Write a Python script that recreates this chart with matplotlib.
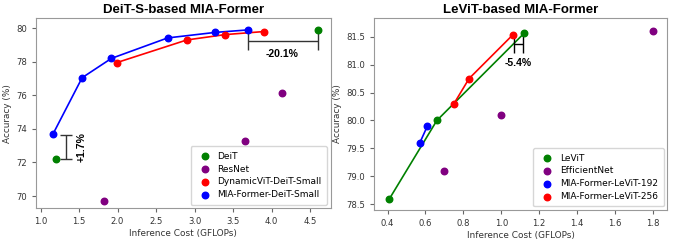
import matplotlib
matplotlib.use("Agg")
import matplotlib.pyplot as plt

# ---- Left panel data (DeiT-S based) ----
deit_x = [1.2, 4.6]
deit_y = [72.2, 79.9]
resnet_x = [1.82, 3.66, 4.13]
resnet_y = [69.7, 73.3, 76.15]
dyn_x = [1.99, 2.9, 3.4, 3.9]
dyn_y = [77.95, 79.3, 79.62, 79.8]
mia_s_x = [1.16, 1.54, 1.92, 2.65, 3.27, 3.7]
mia_s_y = [73.68, 77.05, 78.2, 79.42, 79.75, 79.9]

# annotations left
gain_x = [1.33]
gain_y = [72.93]
gain_err = [0.72]
gain_label = "+1.7%"
cost_x = [4.15]
cost_y = [79.26]
cost_err = [0.45]
cost_label = "-20.1%"

# ---- Right panel data (LeViT based) ----
levit_x = [0.41, 0.66, 1.12]
levit_y = [78.6, 80.0, 81.56]
eff_x = [0.70, 1.0, 1.8]
eff_y = [79.1, 80.1, 81.6]
mia192_x = [0.57, 0.61]
mia192_y = [79.6, 79.9]
mia256_x = [0.75, 0.83, 1.06]
mia256_y = [80.3, 80.75, 81.53]

levit_cost_x = [1.09]
levit_cost_y = [81.37]
levit_cost_err = [0.025]
levit_cost_label = "-5.4%"

fig = plt.figure(figsize=(6.78, 2.45), dpi=100)
ax1 = fig.add_axes([0.053, 0.150, 0.435, 0.776])
ax2 = fig.add_axes([0.552, 0.143, 0.432, 0.783])

ms = 22
spine_c = "#999999"
ebar_c = "#333333"
bold_font = ["Liberation Sans", "DejaVu Sans"]

def style(ax):
    for s in ax.spines.values():
        s.set_color(spine_c)
    ax.tick_params(labelsize=6.1, colors="#333333", length=3, width=0.8)
    ax.tick_params(axis="both", color="#666666")

leg_kw = dict(loc="lower right", fontsize=6.5, handletextpad=0.4, borderpad=0.6,
              labelspacing=0.42, scatterpoints=1, handlelength=2.0, borderaxespad=0.4)

# Left
ax1.plot(dyn_x, dyn_y, color="red", lw=1.2, zorder=2)
ax1.plot(mia_s_x, mia_s_y, color="blue", lw=1.2, zorder=2)
ax1.scatter(deit_x, deit_y, color="green", s=ms, label="DeiT", zorder=3)
ax1.scatter(resnet_x, resnet_y, color="purple", s=ms, label="ResNet", zorder=3)
ax1.scatter(dyn_x, dyn_y, color="red", s=ms, label="DynamicViT-DeiT-Small", zorder=3)
ax1.scatter(mia_s_x, mia_s_y, color="blue", s=ms, label="MIA-Former-DeiT-Small", zorder=3)
ax1.errorbar(gain_x, gain_y, yerr=gain_err, color=ebar_c, capsize=4.3, lw=1, capthick=1)
ax1.text(1.53, gain_y[0], gain_label, rotation=90, fontsize=7.5, fontweight="bold",
         family=bold_font, ha="center", va="center")
ax1.errorbar(cost_x, cost_y, xerr=cost_err, color=ebar_c, capsize=6.5, lw=1, capthick=1)
ax1.text(4.13, 78.46, cost_label, fontsize=7.5, fontweight="bold", family=bold_font,
         ha="center", va="center")
ax1.set_xlim(0.94, 4.77)
ax1.set_ylim(69.27, 80.6)
ax1.set_xticks([1.0, 1.5, 2.0, 2.5, 3.0, 3.5, 4.0, 4.5])
ax1.set_yticks([70, 72, 74, 76, 78, 80])
ax1.set_xlabel("Inference Cost (GFLOPs)", fontsize=6.4, color="#333333", labelpad=2)
ax1.set_ylabel("Accuracy (%)", fontsize=6.4, color="#333333", labelpad=3)
ax1.set_title("DeiT-S-based MIA-Former", fontsize=9.5, fontweight="bold",
              family=bold_font, pad=4)
style(ax1)
ax1.legend(**leg_kw)

# Right
ax2.plot(levit_x, levit_y, color="green", lw=1.2, zorder=2)
ax2.plot(mia192_x, mia192_y, color="blue", lw=1.2, zorder=2)
ax2.plot(mia256_x, mia256_y, color="red", lw=1.2, zorder=2)
ax2.scatter(levit_x, levit_y, color="green", s=ms, label="LeViT", zorder=3)
ax2.scatter(eff_x, eff_y, color="purple", s=ms, label="EfficientNet", zorder=3)
ax2.scatter(mia192_x, mia192_y, color="blue", s=ms, label="MIA-Former-LeViT-192", zorder=3)
ax2.scatter(mia256_x, mia256_y, color="red", s=ms, label="MIA-Former-LeViT-256", zorder=3)
ax2.errorbar(levit_cost_x, levit_cost_y, xerr=levit_cost_err, color="black",
             capsize=6.8, lw=1, capthick=1)
ax2.text(1.09, 81.02, levit_cost_label, fontsize=7.5, fontweight="bold", family=bold_font,
         ha="center", va="center")
ax2.set_xlim(0.33, 1.874)
ax2.set_ylim(78.4, 81.83)
ax2.set_xticks([0.4, 0.6, 0.8, 1.0, 1.2, 1.4, 1.6, 1.8])
ax2.set_yticks([78.5, 79.0, 79.5, 80.0, 80.5, 81.0, 81.5])
ax2.set_xlabel("Inference Cost (GFLOPs)", fontsize=6.4, color="#333333", labelpad=2)
ax2.set_ylabel("Accuracy (%)", fontsize=6.4, color="#333333", labelpad=3)
ax2.set_title("LeViT-based MIA-Former", fontsize=9.5, fontweight="bold",
              family=bold_font, pad=4)
style(ax2)
ax2.legend(**leg_kw)

fig.savefig("out.png", dpi=100)
